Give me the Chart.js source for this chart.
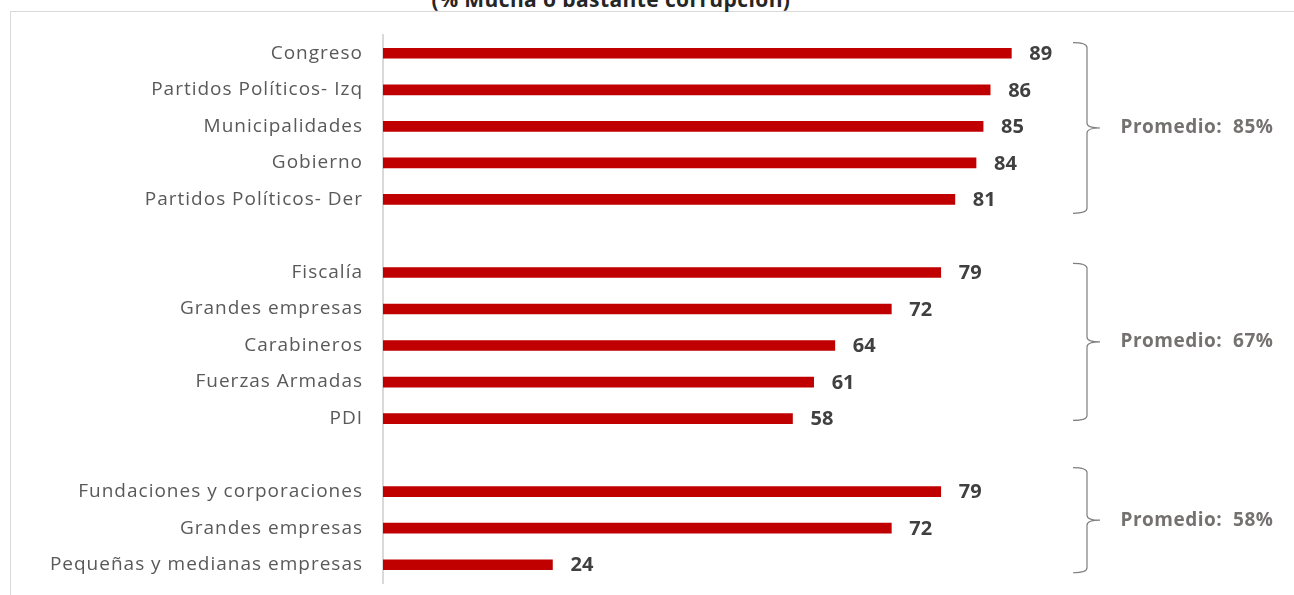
<!DOCTYPE html>
<html>
<head>
<meta charset="utf-8">
<script src="https://cdn.jsdelivr.net/npm/chart.js@4.4.0/dist/chart.umd.min.js"></script>
<style>
    html, body { margin: 0; padding: 0; background: #fff; }
    #wrap { position: relative; width: 1294px; height: 595px; overflow: hidden; }
    #frame {
        position: absolute; left: 10px; top: 11px; width: 1300px; height: 600px;
        border-left: 1px solid #d9d9d9; border-top: 1px solid #d9d9d9;
    }
    #title {
        position: absolute; left: 0; width: 1222px; top: -15px; text-align: center;
        font: bold 21px 'Open Sans', sans-serif; letter-spacing: 0.4px; color: #262626; white-space: nowrap;
    }
    #chart { position: absolute; left: 0; top: 0; }
</style>
</head>
<body>
<div id="wrap">
    <div id="frame"></div>
    <div id="title">(% Mucha o bastante corrupción)</div>
    <canvas id="chart" width="1294" height="595"></canvas>
</div>
<script>
// Categories (empty strings are the gaps between groups)
const categories = [
    'Congreso', 'Partidos Políticos- Izq', 'Municipalidades', 'Gobierno', 'Partidos Políticos- Der',
    '',
    'Fiscalía', 'Grandes empresas', 'Carabineros', 'Fuerzas Armadas', 'PDI',
    '',
    'Fundaciones y corporaciones', 'Grandes empresas', 'Pequeñas y medianas empresas'
];
const values = [89, 86, 85, 84, 81, null, 79, 72, 64, 61, 58, null, 79, 72, 24];

// Groups marked with a brace: first and last category index, and average label
const groupStart = [0, 6, 12];
const groupEnd = [4, 10, 14];
const groupLabels = ['Promedio:  85%', 'Promedio:  67%', 'Promedio:  58%'];

const barColor = '#C00000';

// wider spacing for the category labels (Excel look)
const spacing = {
    id: 'spacing',
    beforeUpdate(chart) { chart.ctx.letterSpacing = '1px'; },
    beforeDraw(chart) { chart.ctx.letterSpacing = '1px'; }
};

// value labels to the right of each bar
const valueLabels = {
    id: 'valueLabels',
    afterDatasetsDraw(chart) {
        const ctx = chart.ctx;
        const meta = chart.getDatasetMeta(0);
        ctx.save();
        ctx.letterSpacing = '0px';
        ctx.font = "bold 20px 'Open Sans', sans-serif";
        ctx.fillStyle = '#404040';
        ctx.textBaseline = 'middle';
        ctx.textAlign = 'left';
        meta.data.forEach((bar, i) => {
            if (values[i] == null) return;
            ctx.fillText(values[i], bar.x + 18, bar.y + 1);
        });
        ctx.restore();
    }
};

// curly braces with the group averages
const braces = {
    id: 'braces',
    afterDraw(chart, args, opts) {
        const ctx = chart.ctx;
        const y = chart.scales.y;
        const band = y.getPixelForValue(1) - y.getPixelForValue(0);
        const right = chart.chartArea.right;
        ctx.save();
        ctx.strokeStyle = '#7f7f7f';
        ctx.lineWidth = 1.2;
        groupStart.forEach((s, g) => {
            const top = y.getPixelForValue(s) - opts.ext[g][0] * band;
            const bot = y.getPixelForValue(groupEnd[g]) + opts.ext[g][1] * band;
            const mid = (top + bot) / 2;
            const vx = right - 2;
            const hx = right - 16;
            const tx = right + 11;
            const r = 5;
            ctx.beginPath();
            ctx.moveTo(hx, top);
            ctx.quadraticCurveTo(vx, top, vx, top + r);
            ctx.lineTo(vx, mid - r);
            ctx.quadraticCurveTo(vx, mid, tx, mid);
            ctx.moveTo(tx, mid);
            ctx.quadraticCurveTo(vx, mid, vx, mid + r);
            ctx.lineTo(vx, bot - r);
            ctx.quadraticCurveTo(vx, bot, hx, bot);
            ctx.stroke();

            ctx.letterSpacing = '0.5px';
            ctx.font = "bold 19px 'Open Sans', sans-serif";
            ctx.fillStyle = '#767171';
            ctx.textAlign = 'center';
            ctx.textBaseline = 'middle';
            ctx.fillText(groupLabels[g], right + 108, mid);
        });
        ctx.restore();
    }
};

new Chart(document.getElementById('chart'), {
    type: 'bar',
    data: {
        labels: categories,
        datasets: [{
            data: values,
            backgroundColor: barColor,
            barThickness: 10,
            borderWidth: 0
        }]
    },
    options: {
        indexAxis: 'y',
        responsive: false,
        animation: false,
        layout: { padding: { left: 0, right: 205, top: 35, bottom: 12 } },
        plugins: {
            legend: { display: false },
            tooltip: { enabled: false },
            braces: { ext: [[0.29, 0.38], [0.25, 0.05], [0.66, 0.22]] }
        },
        scales: {
            x: {
                display: false,
                min: 0,
                max: 100
            },
            y: {
                grid: { display: false, drawTicks: false },
                border: { display: true, color: '#d9d9d9', width: 2 },
                ticks: {
                    padding: 20,
                    color: '#595959',
                    font: { family: "'Open Sans', sans-serif", size: 19 }
                },
                afterFit(scale) {
                    scale.width = 383;
                    scale.paddingTop = 0;
                    scale.paddingBottom = 0;
                }
            }
        }
    },
    plugins: [spacing, valueLabels, braces]
});
</script>
</body>
</html>
